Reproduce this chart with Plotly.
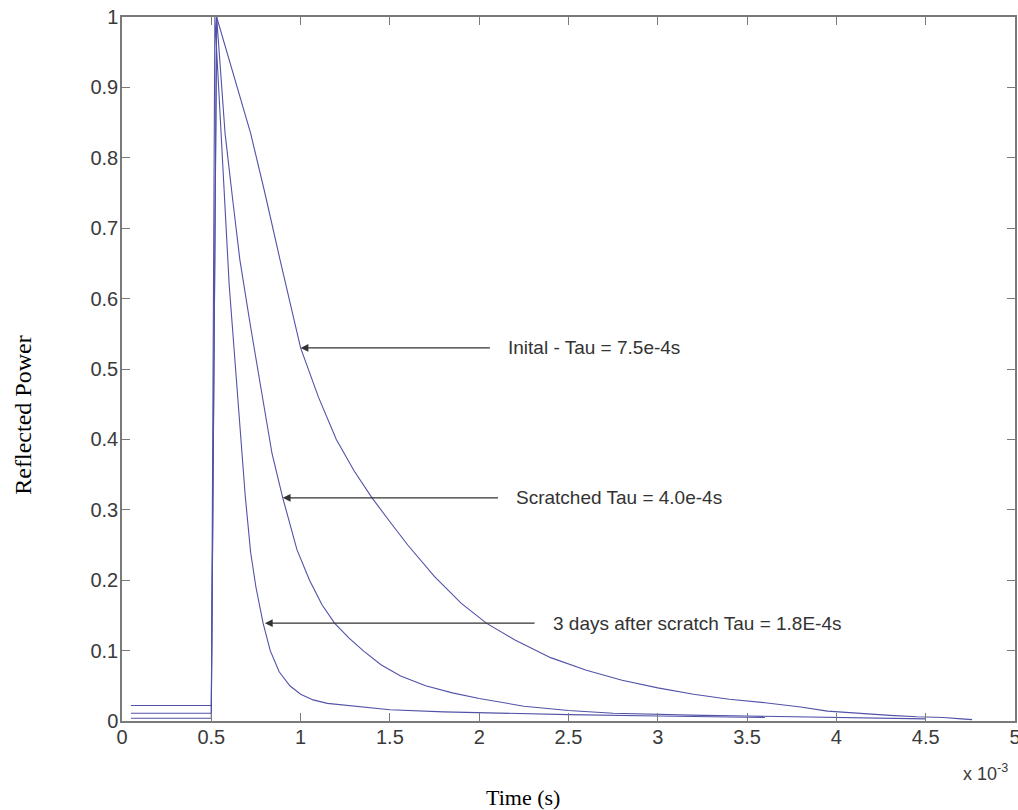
import plotly.graph_objects as go

# Time axis values are in units of 1e-3 s
init_x = [0.05, 0.5, 0.5, 0.53, 0.72, 0.8, 0.885, 1.0, 1.1, 1.2, 1.3, 1.4, 1.5, 1.6, 1.75, 1.9, 2.04,
          2.2, 2.4, 2.6, 2.8, 3.0, 3.2, 3.4, 3.6, 3.8, 3.95, 4.1, 4.3, 4.45, 4.6, 4.7, 4.76]
init_y = [0.022, 0.022, 0.02, 1.0, 0.835, 0.75, 0.655, 0.53, 0.46, 0.40, 0.355, 0.317, 0.283, 0.25, 0.205,
          0.167, 0.139, 0.115, 0.09, 0.072, 0.058, 0.047, 0.038, 0.031, 0.026, 0.02, 0.014, 0.011, 0.008, 0.006,
          0.005, 0.003, 0.002]

scr_x = [0.05, 0.5, 0.5, 0.53, 0.56, 0.577, 0.62, 0.66, 0.72, 0.8, 0.84, 0.9, 0.98, 1.05, 1.12, 1.19, 1.27,
         1.35, 1.45, 1.56, 1.7, 1.85, 2.0, 2.25, 2.5, 2.75, 3.0, 3.25, 3.5, 3.75, 4.0, 4.25, 4.5]
scr_y = [0.011, 0.011, 0.01, 1.0, 0.9, 0.835, 0.74, 0.655, 0.56, 0.44, 0.38, 0.317, 0.243, 0.2, 0.165, 0.139,
         0.118, 0.1, 0.08, 0.064, 0.05, 0.04, 0.032, 0.021, 0.015, 0.011, 0.009, 0.008, 0.007, 0.006, 0.005,
         0.004, 0.003]

day3_x = [0.05, 0.5, 0.5, 0.52, 0.54, 0.56, 0.58, 0.6, 0.63, 0.66, 0.69, 0.72, 0.75, 0.79, 0.83, 0.88, 0.94,
          1.0, 1.07, 1.15, 1.29, 1.5, 1.8, 2.1, 2.5, 3.0, 3.3, 3.6]
day3_y = [0.004, 0.004, 0.004, 1.0, 0.9, 0.8, 0.7, 0.62, 0.52, 0.42, 0.32, 0.24, 0.19, 0.139, 0.10, 0.07,
          0.05, 0.038, 0.03, 0.025, 0.021, 0.016, 0.013, 0.011, 0.009, 0.007, 0.006, 0.005]

x_ticks = [0, 0.5, 1, 1.5, 2, 2.5, 3, 3.5, 4, 4.5, 5]
x_tick_text = ["0", "0.5", "1", "1.5", "2", "2.5", "3", "3.5", "4", "4.5", "5"]
y_ticks = [0, 0.1, 0.2, 0.3, 0.4, 0.5, 0.6, 0.7, 0.8, 0.9, 1]
y_tick_text = ["0", "0.1", "0.2", "0.3", "0.4", "0.5", "0.6", "0.7", "0.8", "0.9", "1"]

labels = ["Inital - Tau = 7.5e-4s", "Scratched Tau = 4.0e-4s", "3 days after scratch Tau = 1.8E-4s"]
arrow_tip_x = [1.0, 0.90, 0.80]
arrow_tip_y = [0.53, 0.317, 0.139]
arrow_tail_x = [2.06, 2.105, 2.31]

line_color = "#5252a8"

fig = go.Figure()
for xs, ys in [(init_x, init_y), (scr_x, scr_y), (day3_x, day3_y)]:
    fig.add_trace(go.Scatter(x=xs, y=ys, mode="lines",
                             line=dict(color=line_color, width=1.1), showlegend=False))

for lab, tx, ty, ax in zip(labels, arrow_tip_x, arrow_tip_y, arrow_tail_x):
    fig.add_annotation(x=tx, y=ty, ax=ax, ay=ty, xref="x", yref="y", axref="x", ayref="y",
                       text=lab, showarrow=True, arrowhead=2, arrowsize=1.3, arrowwidth=1.2,
                       arrowcolor="#333333", xanchor="left", yanchor="middle", borderpad=17,
                       font=dict(family="Liberation Sans, Arial", size=19, color="#333333"))

axis_common = dict(showgrid=False, zeroline=False, showline=True, linecolor="#7a7a7a", linewidth=1.5,
                   mirror="ticks", ticks="inside", ticklen=8, tickcolor="#7a7a7a", tickwidth=1.2,
                   automargin=False, ticklabeloverflow="allow",
                   tickfont=dict(family="Liberation Sans, Arial", size=20, color="#3a3a3a"))

fig.update_xaxes(range=[0, 5], tickvals=x_ticks, ticktext=x_tick_text, ticklabelstandoff=-3, **axis_common)
fig.update_yaxes(range=[0, 1], tickvals=y_ticks, ticktext=y_tick_text, ticklabelstandoff=-2, **axis_common)

fig.add_annotation(xref="paper", yref="paper", x=0.967, y=-0.073, showarrow=False,
                   xanchor="center", yanchor="middle",
                   text="x 10<sup>-3</sup>",
                   font=dict(family="Liberation Sans, Arial", size=18, color="#3a3a3a"))
fig.add_annotation(xref="paper", yref="paper", x=0.449, y=-0.108, showarrow=False,
                   xanchor="center", yanchor="middle",
                   text="Time (s)", font=dict(family="Liberation Serif, Times New Roman", size=22, color="black"))
fig.add_annotation(xref="paper", yref="paper", x=-0.111, y=0.435, showarrow=False, textangle=-90,
                   xanchor="center", yanchor="middle",
                   text="Reflected Power",
                   font=dict(family="Liberation Serif, Times New Roman", size=24, color="black"))

fig.update_layout(width=1018, height=810, plot_bgcolor="white", paper_bgcolor="white",
                  margin=dict(l=122, r=3, t=17, b=89))

# remove the default page margin so the 1018x810 figure fills the window exactly
fig.write_html("out.html", config={"displayModeBar": False},
               post_script="document.body.style.margin='0';document.body.style.overflow='hidden';")
